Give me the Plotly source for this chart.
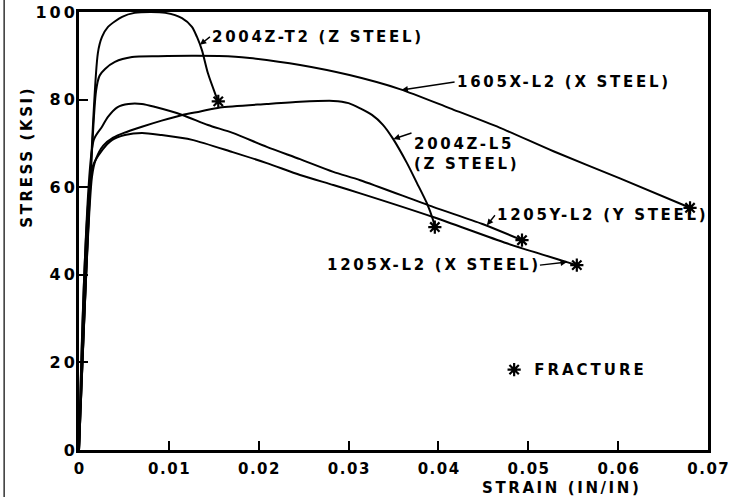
import plotly.graph_objects as go

# ---------------- data (strain in in/in, stress in ksi) ----------------
t2_strain = [0, 0.0021, 0.00256, 0.00323, 0.0048, 0.0062, 0.0080, 0.0096, 0.01146,
             0.01257, 0.01313, 0.01368, 0.01435, 0.01513, 0.0155]
t2_stress = [0, 90.6, 94.3, 96.6, 98.9, 99.8, 100, 99.8, 98.6,
             96.6, 94.3, 91.3, 86.0, 81.5, 79.6]

x1605_strain = [0, 0.0019, 0.0023, 0.0029, 0.0040, 0.0059, 0.0088, 0.0130, 0.0174,
                0.0190, 0.0246, 0.0301, 0.0357, 0.0413, 0.0468, 0.0528, 0.0602, 0.0680]
x1605_stress = [0, 82.0, 85.5, 87.0, 88.6, 89.7, 89.9, 90.0, 89.8,
                89.5, 87.9, 85.6, 82.4, 78.0, 73.6, 68.2, 62.0, 55.3]

l5_strain = [0, 0.00145, 0.0019, 0.0027, 0.0038, 0.0050, 0.0070, 0.0092, 0.0115, 0.0135,
             0.0157, 0.0209, 0.0246, 0.0283, 0.0300, 0.0313, 0.0326, 0.0338, 0.0349,
             0.0365, 0.0376, 0.0387, 0.0394, 0.0396]
l5_stress = [0, 62.5, 66.5, 69.5, 71.3, 72.4, 73.8, 75.2, 76.5, 77.3,
             78.2, 79.0, 79.5, 79.7, 79.2, 78.0, 76.5, 74.3, 71.2,
             65.5, 61.0, 56.4, 52.5, 50.9]

y1205_strain = [0, 0.00164, 0.00256, 0.0032, 0.0043, 0.0055, 0.0070, 0.0085, 0.0115,
                0.01435, 0.0171, 0.0209, 0.0246, 0.0283, 0.0313, 0.0394, 0.0449, 0.0493]
y1205_stress = [0, 70.8, 73.8, 76.0, 78.3, 79.0, 79.0, 78.3, 76.5,
                74.2, 72.4, 69.2, 66.4, 63.5, 61.6, 55.5, 51.6, 47.9]

x1205_strain = [0, 0.0015, 0.0026, 0.0037, 0.0051, 0.0070, 0.0092, 0.0126, 0.0171,
                0.0209, 0.0246, 0.0283, 0.0313, 0.0394, 0.0476, 0.0543, 0.0554]
x1205_stress = [0, 64.6, 68.5, 70.8, 71.9, 72.4, 71.9, 70.8, 68.0,
                65.5, 62.8, 60.5, 58.6, 53.2, 47.2, 42.9, 42.2]

curve_names = ["2004Z-T2 (Z STEEL)", "1605X-L2 (X STEEL)", "2004Z-L5<br>(Z STEEL)",
               "1205Y-L2 (Y STEEL)", "1205X-L2 (X STEEL)"]
curves = [(t2_strain, t2_stress), (x1605_strain, x1605_stress), (l5_strain, l5_stress),
          (y1205_strain, y1205_stress), (x1205_strain, x1205_stress)]

# label leader-arrow tips on each curve (strain, stress)
label_tips = [(0.01346, 92.5), (0.0359, 82.2), (0.0350, 71.0), (0.0454, 51.3), (0.0543, 42.9)]

x_ticks = [0, 0.01, 0.02, 0.03, 0.04, 0.05, 0.06, 0.07]
x_tick_text = ["0", "0.01", "0.02", "0.03", "0.04", "0.05", "0.06", "0.07"]
y_ticks = [0, 20, 40, 60, 80, 100]
y_tick_text = ["0", "20", "40", "60", "80", "100"]

FONT = "DejaVu Sans"


def sp(text, px):
    # letter spacing between characters (none after the last one)
    if len(text) < 2:
        return text
    return f'<span style="letter-spacing:{px}px">{text[:-1]}</span>{text[-1]}'


fig = go.Figure()
for (xs, ys), nm in zip(curves, curve_names):
    fig.add_trace(go.Scatter(x=xs, y=ys, mode="lines", name=nm.replace("<br>", " "),
                             line=dict(color="black", width=2, shape="spline", smoothing=0.7),
                             showlegend=False, hoverinfo="skip"))

# fracture points = last point of each curve
fig.add_trace(go.Scatter(x=[c[0][-1] for c in curves], y=[c[1][-1] for c in curves],
                         mode="markers", name="<b>" + sp("FRACTURE", 3) + "</b>",
                         marker=dict(symbol="asterisk", size=11, color="black",
                                     line=dict(color="black", width=2.2)),
                         showlegend=True, hoverinfo="skip"))

# annotation placement (pixel offsets of text from arrow tip)
ann_cfg = [
    dict(ax=10, ay=-8, xanchor="left", yanchor="middle"),
    dict(ax=53, ay=-8, xanchor="left", yanchor="middle"),
    dict(ax=18, ay=-6, xanchor="left", yanchor="top"),
    dict(ax=8, ay=-10, xanchor="left", yanchor="middle"),
    dict(ax=-27, ay=3, xanchor="right", yanchor="middle"),
]
annotations = []
for nm, (tx, ty), cfg in zip(curve_names, label_tips, ann_cfg):
    text = "<br>".join("<b>" + sp(p, 2.7) + "</b>" for p in nm.split("<br>"))
    annotations.append(dict(x=tx, y=ty, xref="x", yref="y", text=text, showarrow=True,
                            arrowhead=2, arrowsize=0.9, arrowwidth=1.4, arrowcolor="black",
                            align="left", font=dict(family=FONT, size=15, color="black"),
                            **cfg))

annotations.append(dict(x=-0.083, y=0.667, xref="paper", yref="paper",
                        xanchor="center", yanchor="middle",
                        text="<b>" + sp("STRESS (KSI)", 2.6) + "</b>", textangle=-90,
                        showarrow=False, font=dict(family=FONT, size=15, color="black")))
annotations.append(dict(x=0.765, y=-0.087, xref="paper", yref="paper",
                        xanchor="center", yanchor="middle",
                        text="<b>" + sp("STRAIN (IN/IN)", 2.6) + "</b>", showarrow=False,
                        font=dict(family=FONT, size=15, color="black")))

fig.update_layout(
    width=737, height=497, autosize=False,
    margin=dict(l=79, r=29, t=12, b=47, autoexpand=False),
    paper_bgcolor="white", plot_bgcolor="white",
    font=dict(family=FONT, color="black"),
    annotations=annotations,
    legend=dict(x=0.66, y=0.183, xanchor="left", yanchor="middle",
                bgcolor="rgba(0,0,0,0)", font=dict(family=FONT, size=15, color="black")),
    shapes=[dict(type="line", xref="paper", yref="paper", x0=-0.119, x1=-0.119,
                 y0=-0.11, y1=1.03, line=dict(color="#333", width=1.5))],
)
fig.update_xaxes(range=[0, 0.07], tickvals=x_ticks,
                 ticktext=["<b>" + sp(t, 1.5) + "</b>" for t in x_tick_text],
                 showgrid=False, zeroline=False, showline=True, linewidth=3, linecolor="black",
                 mirror=True, ticks="inside", ticklen=9, tickwidth=1.5, tickcolor="black",
                 automargin=False, ticklabelstandoff=3,
                 tickfont=dict(family=FONT, size=15, color="black"))
fig.update_yaxes(range=[0, 100], tickvals=y_ticks,
                 ticktext=["<b>" + sp(t, 3) + "</b>" for t in y_tick_text],
                 showgrid=False, zeroline=False, showline=True, linewidth=3, linecolor="black",
                 mirror=True, ticks="inside", ticklen=9, tickwidth=1.5, tickcolor="black",
                 automargin=False, ticklabelstandoff=-2,
                 tickfont=dict(family=FONT, size=16, color="black"))

fig.write_html("out.html", config={"displayModeBar": False},
               post_script="document.body.style.margin='0';document.body.style.overflow='hidden';")
